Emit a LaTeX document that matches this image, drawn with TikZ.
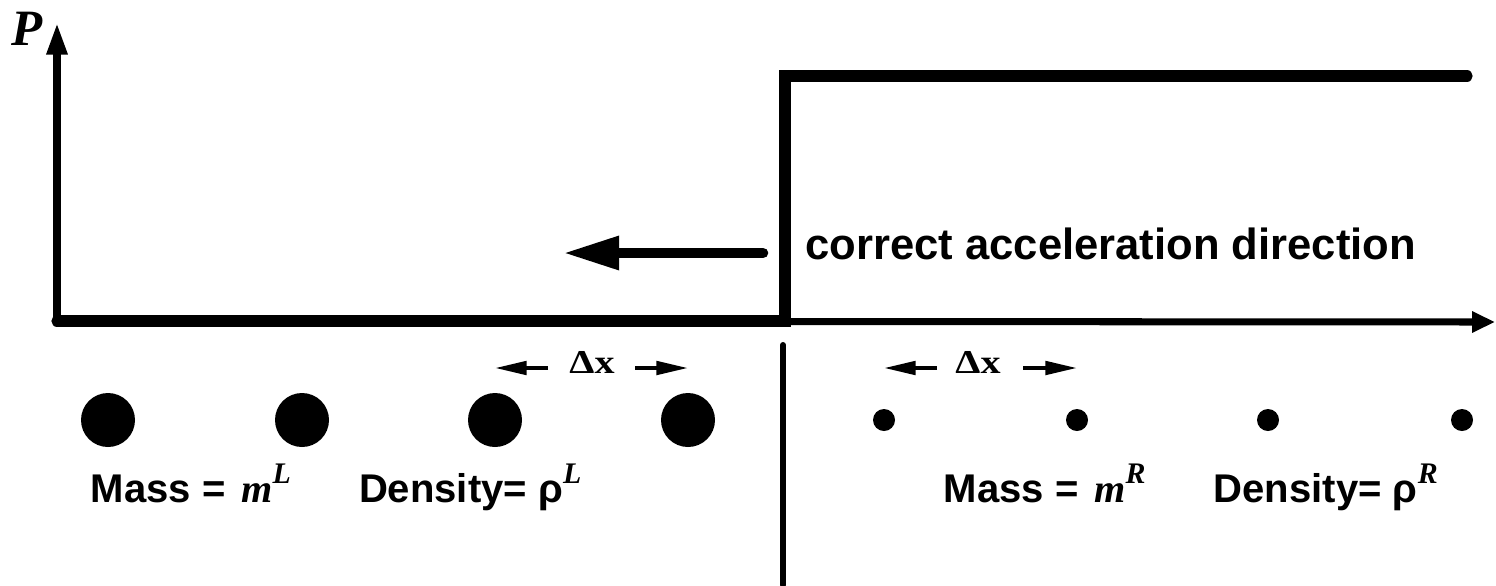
\documentclass[tikz,border=0pt]{standalone}
\usepackage{fontspec}
\setmainfont{Liberation Sans}
\newfontfamily\timesfont{Liberation Serif}
\usetikzlibrary{arrows.meta}
\newcommand{\AxTip}{Triangle[length=9pt,width=5.6pt]}
\newcommand{\VarIt}[1]{{\timesfont\bfseries\itshape #1}}
\newcommand{\SupIt}[1]{\raisebox{5.4pt}{\fontsize{8.5}{9}\selectfont\VarIt{#1}}}
\newcommand{\DeltaX}{\scalebox{1.2}[1]{Δx}}
\tikzset{axisline/.style={line width=2pt}}
\tikzset{stepline/.style={line width=3.2pt,line cap=round,line join=miter}}
\tikzset{accarrow/.style={line width=3pt,line cap=round,-{Triangle[length=16pt,width=9pt]}}}
\tikzset{dxarrow/.style={line width=1.1pt,-{Triangle[length=9pt,width=3.8pt]}}}
\tikzset{bigdot/.style={circle,fill,inner sep=0pt,minimum size=5.4mm},smalldot/.style={circle,fill,inner sep=0pt,minimum size=2.2mm}}
\tikzset{masstext/.style={anchor=base west,inner sep=0pt,font=\bfseries\fontsize{11.4}{13}\selectfont}}
\tikzset{dxtext/.style={anchor=base,inner sep=0pt,font=\timesfont\bfseries\fontsize{9.5}{12}\selectfont}}
\begin{document}
\begin{tikzpicture}
\useasboundingbox(0,0)rectangle(14.96,5.85);
% axes and pressure step
\coordinate(O)at(.57,2.64);\coordinate(Ptop)at(.57,5.62);\coordinate(Xend)at(14.95,2.63);
\coordinate(S0)at(7.85,2.64);\coordinate(S1)at(7.85,5.09);\coordinate(S2)at(14.67,5.09);
\draw[axisline,-{\AxTip}](O)--(Ptop);\draw[axisline,-{Triangle[length=6.5pt,width=5.7pt]}](O)--(Xend);
\draw[stepline](O)--(S0)--(S1)--(S2);
\node[anchor=base west,inner sep=0pt,font=\fontsize{14.5}{16}\selectfont](P)at(.11,5.40){\VarIt{P}};
% acceleration arrow
\node[anchor=base west,inner sep=0pt,font=\bfseries\fontsize{12.4}{14}\selectfont](acc)at(8.05,3.26){correct acceleration direction};
\coordinate(accTail)at(7.63,3.32);\coordinate(accTip)at(5.63,3.32);\draw[accarrow](accTail)--(accTip);
% interface
\coordinate(D0)at(7.83,2.40);\coordinate(D1)at(7.83,0);\draw[line width=1.7pt,line cap=round](D0)--(D1);
% particles
\foreach \x[count=\i] in {1.08,3.02,4.95,6.88}\node[bigdot](B\i)at(\x,1.65){};
\foreach \x[count=\i] in {8.84,10.77,12.68,14.62}\node[smalldot](s\i)at(\x,1.65){};
% spacing
\node[dxtext](dxL)at(5.92,2.12){\DeltaX};\node[dxtext](dxR)at(9.78,2.12){\DeltaX};
\coordinate(dxLa)at(5.48,2.17);\coordinate(dxLb)at(6.35,2.17);\coordinate(dxRa)at(9.37,2.17);\coordinate(dxRb)at(10.23,2.17);
\draw[dxarrow](dxLa)--(dxLa-|B3);\draw[dxarrow](dxLb)--(dxLb-|B4);\draw[dxarrow](dxRa)--(dxRa-|s1);\draw[dxarrow](dxRb)--(dxRb-|s2);
\node[masstext](mL)at(.90,.83){Mass =\hspace{.4em}\VarIt{m}\SupIt{L}\hspace{1.7em}Density= ρ\SupIt{L}};
\node[masstext](mR)at(9.43,.83){Mass =\hspace{.4em}\VarIt{m}\SupIt{R}\hspace{1.7em}Density= ρ\SupIt{R}};
\end{tikzpicture}
\end{document}
